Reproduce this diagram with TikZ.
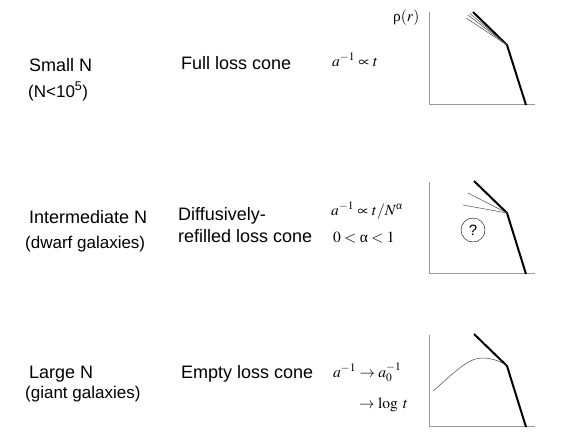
\documentclass[tikz,border=0pt]{standalone}
\usepackage{amsmath}
\usepackage{mathptmx}
\usepackage{fontspec}
\setmainfont{Liberation Sans}
\newfontfamily\timesfont{Liberation Serif}
\newcommand{\ualpha}{\text{\timesfont α}}
\begin{document}
\begin{tikzpicture}[x=1pt,y=-1pt,
  lbl/.style={anchor=base west,inner sep=0pt,font=\fontsize{18}{20}\selectfont},
  sub/.style={anchor=base west,inner sep=0pt,font=\fontsize{17}{19}\selectfont},
  eq/.style={anchor=base west,inner sep=0pt,font=\fontsize{15.5}{18}\selectfont},
  ax/.style={draw=gray!80,line width=0.6pt},
  thick/.style={line width=2pt,line join=miter},
  thinl/.style={draw=black!70,line width=0.5pt}]
\useasboundingbox (0,0) rectangle (565,437);
\fill[white] (0,0) rectangle (565,437);
% row 1
\node[lbl] (s1) at (29,71) {Small N};
\node[sub] (s1b) at (28,97) {(N<10\textsuperscript{5})};
\node[lbl] (c1) at (181,69) {Full loss cone};
\node[eq] (e1) at (332,66) {$a^{-1}\propto t$};
\node[eq] (rho) at (393,21) {\timesfont ρ$(r)$};
\coordinate (a1t) at (429,12); \coordinate (a1o) at (429,104); \coordinate (a1r) at (535,104);
\draw[ax] (a1t) -- (a1o) -- (a1r);
\coordinate (b1) at (507,45);
\draw[thick] (473,12) -- (b1) -- (526,105);
\draw[thinl] (b1) -- (466,18);
\draw[thinl] (b1) -- (468,15);
\draw[thinl] (b1) -- (470,13.5);
% row 2
\node[lbl] (s2) at (29,223) {Intermediate N};
\node[sub] (s2b) at (25,248) {(dwarf galaxies)};
\node[lbl] (c2a) at (178,220) {Diffusively-};
\node[lbl] (c2b) at (178,242) {refilled loss cone};
\node[eq] (e2) at (331,215) {$a^{-1}\propto t/N^{\ualpha}$};
\node[eq] (e2b) at (333,242) {$0<\ualpha<1$};
\draw[ax] (429,182) -- (429,273) -- (535,273);
\coordinate (b2) at (507,213);
\draw[thick] (474,181) -- (b2) -- (526,274);
\draw[thinl] (b2) -- (468,193);
\draw[thinl] (b2) -- (463,205);
\node[draw,circle,minimum size=24pt,inner sep=0pt,font=\fontsize{15}{17}\selectfont] (q) at (473,230) {?};
% row 3
\node[lbl] (s3) at (29,378) {Large N};
\node[sub] (s3b) at (25,398) {(giant galaxies)};
\node[lbl] (c3) at (181,378) {Empty loss cone};
\node[eq] (e3) at (333,377) {$a^{-1}\rightarrow a_0^{-1}$};
\node[eq] (e3b) at (359,408) {$\rightarrow\log\;t$};
\draw[ax] (429,335) -- (429,426) -- (535,426);
\coordinate (b3) at (507,366);
\draw[thick] (474,334) -- (b3) -- (526,427);
\draw[thinl] (433,391) .. controls (455,372) and (468,358) .. (482,358) .. controls (493,358) and (502,362) .. (b3);
\end{tikzpicture}
\end{document}
